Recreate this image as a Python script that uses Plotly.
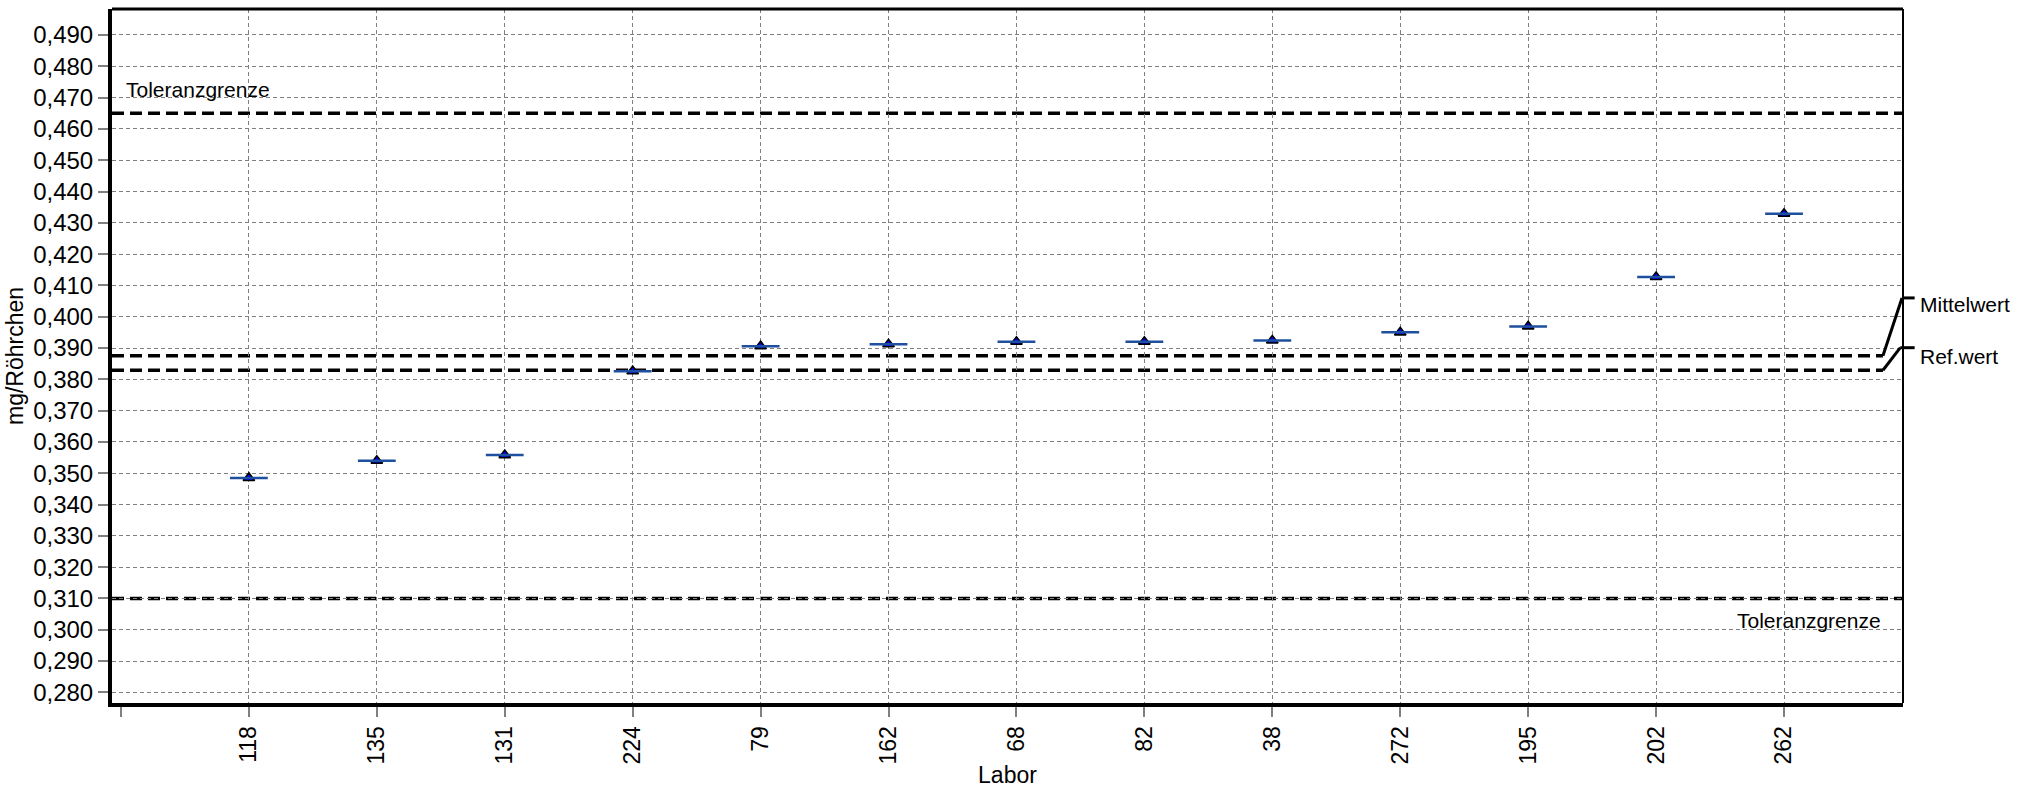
import plotly.graph_objects as go

# ---- data ----
labs = ["118", "135", "131", "224", "79", "162", "68", "82", "38", "272", "195", "202", "262"]
values = [0.3485, 0.3540, 0.3558, 0.3826, 0.3906, 0.3912, 0.3920, 0.3920, 0.3924, 0.3950, 0.3969, 0.4127, 0.4329]
mittelwert = 0.3875
refwert = 0.3829
tol_upper = 0.465
tol_lower = 0.310
y_tickvals = [0.28, 0.29, 0.30, 0.31, 0.32, 0.33, 0.34, 0.35, 0.36, 0.37, 0.38,
              0.39, 0.40, 0.41, 0.42, 0.43, 0.44, 0.45, 0.46, 0.47, 0.48, 0.49]

pos = list(range(1, len(labs) + 1))
FONT = "Liberation Sans, Arial, sans-serif"
GRID = "#808080"

fig = go.Figure()
fig.add_trace(go.Scatter(
    x=pos, y=values, mode="markers", xaxis="x2", yaxis="y",
    marker=dict(symbol="line-ew", size=27, line=dict(color="#1f4f9f", width=2.5)),
    hoverinfo="skip", showlegend=False))
fig.add_trace(go.Scatter(
    x=pos, y=values, mode="markers",
    marker=dict(symbol="triangle-up", size=10, color="#0000ff",
                line=dict(color="black", width=1.6)),
    showlegend=False))

shapes = []
dash_ref = "12px,6px"
for yv, x1 in [(tol_upper, 1.0), (tol_lower, 1.0), (mittelwert, 0.9888), (refwert, 0.9888)]:
    shapes.append(dict(type="line", xref="paper", yref="y", x0=0, x1=x1, y0=yv, y1=yv,
                       line=dict(color="black", width=3.5, dash=dash_ref), layer="between"))

# label connectors (layout offsets)
mean_conn = mittelwert + 0.0185
ref_conn = refwert + 0.0072
for base, conn, xs in [(mittelwert, mean_conn, 0.99944), (refwert, ref_conn, 0.9985)]:
    shapes.append(dict(type="line", xref="paper", yref="y", x0=0.9888, x1=xs, y0=base, y1=conn,
                       line=dict(color="black", width=3), layer="above"))
    shapes.append(dict(type="line", xref="paper", yref="y", x0=xs, x1=1.0065, y0=conn, y1=conn,
                       line=dict(color="black", width=3), layer="above"))
# frame top / right
shapes.append(dict(type="line", xref="paper", yref="paper", x0=0, x1=1, y0=1, y1=1,
                   line=dict(color="black", width=3), layer="above"))
shapes.append(dict(type="line", xref="paper", yref="paper", x0=1, x1=1, y0=0, y1=1,
                   line=dict(color="black", width=2), layer="above"))

annotations = [
    dict(text="Toleranzgrenze", xref="paper", yref="y", x=0.0067, y=tol_upper,
         xanchor="left", yanchor="middle", yshift=24, showarrow=False, font=dict(size=21)),
    dict(text="Toleranzgrenze", xref="paper", yref="y", x=0.9888, y=tol_lower,
         xanchor="right", yanchor="middle", yshift=-22, showarrow=False, font=dict(size=21)),
    dict(text="Mittelwert", xref="paper", yref="y", x=1.0084, y=mean_conn,
         xanchor="left", yanchor="middle", yshift=-7, showarrow=False, font=dict(size=21)),
    dict(text="Ref.wert", xref="paper", yref="y", x=1.0084, y=ref_conn,
         xanchor="left", yanchor="middle", yshift=-9, showarrow=False, font=dict(size=21)),
]

xrange = [-0.07, 13.93]
fig.update_layout(
    width=2031, height=788,
    margin=dict(l=112, r=128, t=9, b=85),
    plot_bgcolor="white", paper_bgcolor="white",
    separators=",.",
    font=dict(family=FONT, color="black", size=21),
    xaxis=dict(range=xrange, tickmode="array", tickvals=[0] + pos, ticktext=[""] + labs,
               tickangle=-90, ticks="outside", ticklen=10, tickcolor="#808080", tickwidth=1.5,
               showgrid=False, zeroline=False, showline=True, linecolor="black", linewidth=4,
               tickfont=dict(size=23), automargin=False,
               title=dict(text="Labor", font=dict(size=23), standoff=12)),
    xaxis2=dict(range=xrange, overlaying="x", anchor="y", side="bottom",
                tickmode="array", tickvals=pos, showticklabels=False, ticks="",
                showgrid=True, gridcolor=GRID, gridwidth=1.3, griddash="4px,3px",
                zeroline=False, showline=False, automargin=False),
    yaxis=dict(range=[0.2766, 0.4983], tickmode="array", tickvals=y_tickvals, tickformat=".3f",
               ticks="outside", ticklen=10, tickcolor="#808080", tickwidth=1.5,
               showgrid=True, gridcolor=GRID, gridwidth=1.3, griddash="4px,3px",
               zeroline=False, showline=True, linecolor="black", linewidth=4,
               tickfont=dict(size=24), automargin=False,
               title=dict(text="mg/Röhrchen", font=dict(size=23), standoff=4)),
    shapes=shapes,
    annotations=annotations,
)

fig.write_html("out.html")
